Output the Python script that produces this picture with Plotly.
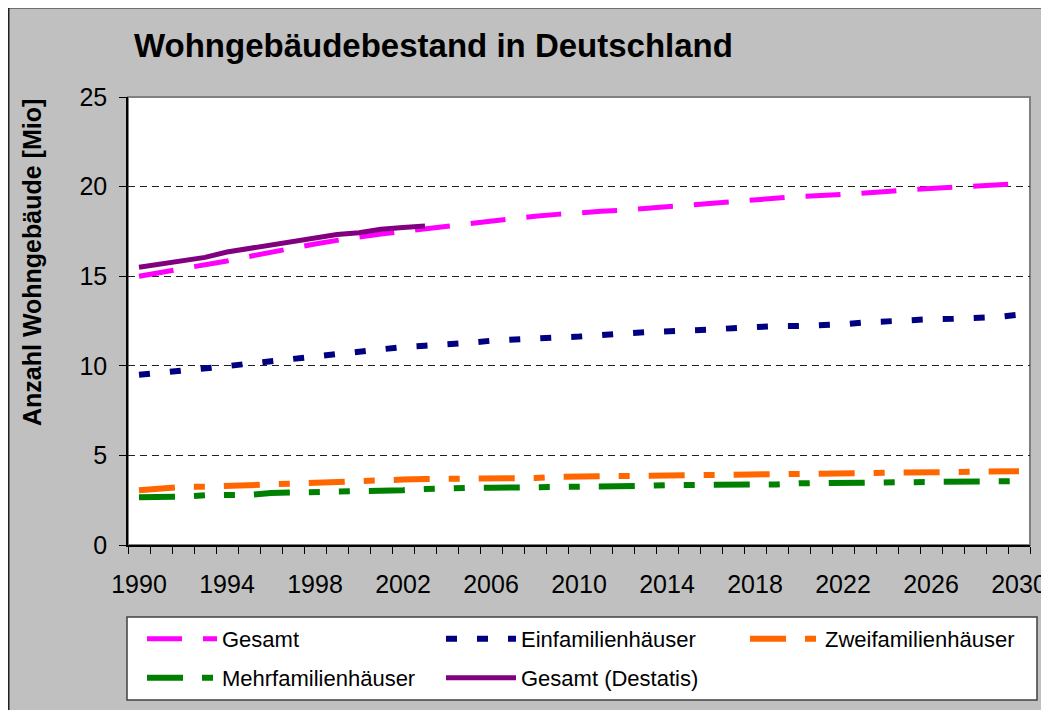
import plotly.graph_objects as go

years = list(range(1990, 2031))
years_destatis = list(range(1990, 2004))

gesamt = [15.0, 15.2, 15.4, 15.6, 15.85, 16.1, 16.35, 16.6, 16.8, 17.0,
          17.2, 17.35, 17.5, 17.65, 17.8, 17.95, 18.05, 18.2, 18.35, 18.45,
          18.55, 18.62, 18.68, 18.78, 18.9, 19.02, 19.1, 19.17, 19.25, 19.35,
          19.45, 19.5, 19.55, 19.62, 19.72, 19.82, 19.88, 19.98, 20.05, 20.1, 20.17]
einfamilien = [9.5, 9.6, 9.72, 9.84, 9.98, 10.12, 10.25, 10.38, 10.52, 10.68,
               10.82, 10.94, 11.05, 11.12, 11.18, 11.28, 11.4, 11.48, 11.53, 11.58,
               11.63, 11.68, 11.8, 11.88, 11.91, 11.94, 12.02, 12.1, 12.17, 12.21,
               12.22, 12.23, 12.32, 12.42, 12.5, 12.57, 12.6, 12.62, 12.65, 12.72, 12.85]
zweifamilien = [3.05, 3.15, 3.25, 3.25, 3.3, 3.38, 3.38, 3.42, 3.5, 3.57,
                3.58, 3.6, 3.65, 3.68, 3.68, 3.72, 3.73, 3.73, 3.74, 3.8,
                3.84, 3.84, 3.85, 3.86, 3.88, 3.9, 3.9, 3.9, 3.9, 3.92,
                3.98, 4.0, 4.0, 4.0, 4.02, 4.08, 4.1, 4.1, 4.1, 4.1, 4.12]
mehrfamilien = [2.66, 2.66, 2.7, 2.78, 2.79, 2.8, 2.9, 2.92, 2.95, 2.95,
                3.0, 3.06, 3.06, 3.12, 3.18, 3.19, 3.19, 3.2, 3.22, 3.23,
                3.23, 3.23, 3.23, 3.3, 3.34, 3.34, 3.34, 3.34, 3.34, 3.38,
                3.44, 3.45, 3.45, 3.45, 3.45, 3.47, 3.52, 3.56, 3.56, 3.56, 3.57]
destatis = [15.5, 15.7, 15.88, 16.05, 16.35, 16.55, 16.78, 16.98, 17.15, 17.33,
            17.43, 17.62, 17.72, 17.8]

x_ticks = list(range(1990, 2031, 4))
y_ticks = [0, 5, 10, 15, 20, 25]

W, H = 1049, 710
OFF = 8  # page body margin: screen coords = figure coords + 8
L, R, T, B = 120, 27, 89, 173
PW, PH = W - L - R, H - T - B


def px(sx):
    """screen x -> paper x"""
    return (sx - OFF - L) / PW


def py(sy):
    """screen y -> paper y"""
    return (H - B - (sy - OFF)) / PH


FONT = "Liberation Sans, Arial, sans-serif"

fig = go.Figure()

series = [
    ("Gesamt", years, gesamt, "#FF00FF", 5, "35px,21px", "legend"),
    ("Einfamilienhäuser", years, einfamilien, "#000080", 6, "11px,20px", "legend2"),
    ("Zweifamilienhäuser", years, zweifamilien, "#FF6600", 6, "36px,19px,11px,19px", "legend3"),
    ("Mehrfamilienhäuser", years, mehrfamilien, "#008000", 6, "36px,19px,11px,19px,11px,19px", "legend4"),
    ("Gesamt (Destatis)", years_destatis, destatis, "#800080", 5, "solid", "legend5"),
]
for name, xs, ys, color, w, dash, lg in series:
    fig.add_trace(go.Scatter(x=xs, y=ys, name=name, mode="lines",
                             line=dict(color=color, width=w, dash=dash),
                             legend=lg, hoverinfo="skip"))

# legend positions (screen px of legend left edge, row center)
leg_pos = {
    "legend": (142, 639),
    "legend2": (441, 639),
    "legend3": (745, 639),
    "legend4": (142, 678),
    "legend5": (441, 678),
}
for lg, (lx, ly) in leg_pos.items():
    fig.update_layout(**{lg: dict(x=px(lx), y=py(ly), xanchor="left", yanchor="middle",
                                  bgcolor="rgba(0,0,0,0)", borderwidth=0,
                                  itemwidth=70, font=dict(family=FONT, size=22, color="black"))})

shapes = [
    # chart area border (top and left)
    dict(type="line", xref="paper", yref="paper", x0=px(OFF + 0.5), x1=px(OFF + 0.5), y0=py(H + 20), y1=py(OFF - 1),
         line=dict(color="#202020", width=2)),
    dict(type="line", xref="paper", yref="paper", x0=px(OFF - 1), x1=px(W + 20), y0=py(OFF - 0.5), y1=py(OFF - 0.5),
         line=dict(color="#202020", width=2)),
    # plot area frame
    dict(type="rect", xref="paper", yref="paper", x0=0, x1=1, y0=0, y1=1,
         line=dict(color="#808080", width=2), layer="below"),
    # legend box
    dict(type="rect", xref="paper", yref="paper", x0=px(127), x1=px(1037), y0=py(700), y1=py(617),
         fillcolor="white", line=dict(color="#404040", width=1.5)),
]

fig.update_layout(
    width=W, height=H,
    margin=dict(l=L, r=R, t=T, b=B, autoexpand=False),
    paper_bgcolor="#C0C0C0",
    plot_bgcolor="white",
    showlegend=True,
    shapes=shapes,
    title=dict(text="Wohngebäudebestand in Deutschland", x=(134 - OFF) / W, xref="container", xanchor="left",
               y=1 - (45 - OFF) / H, yref="container", yanchor="middle",
               font=dict(family=FONT, size=33, color="black", weight="bold")),
    annotations=[dict(text="Anzahl Wohngebäude [Mio]", x=px(32), y=py(263), xref="paper", yref="paper",
                      showarrow=False, textangle=-90, xanchor="center", yanchor="middle",
                      font=dict(family=FONT, size=25, color="black", weight="bold"))],
    xaxis=dict(range=[1989.5, 2030.5], tickmode="array", tickvals=x_ticks,
               ticktext=[str(v) for v in x_ticks], ticks="", showgrid=False, zeroline=False,
               showline=True, linecolor="black", linewidth=1.5,
               tickfont=dict(family=FONT, size=25, color="black"), ticklabelstandoff=16,
               minor=dict(tickmode="linear", tick0=1989.5, dtick=1, ticks="outside",
                          ticklen=7, tickcolor="black", tickwidth=1, showgrid=False)),
    yaxis=dict(range=[0, 25], tickmode="array", tickvals=y_ticks, ticks="outside", ticklen=7,
               tickcolor="black", tickwidth=1, showgrid=True, gridcolor="#202020", gridwidth=1,
               griddash="7px,5px", zeroline=False, showline=True, linecolor="black", linewidth=1.5,
               tickfont=dict(family=FONT, size=25, color="black"), ticklabelstandoff=7),
)

fig.write_html("out.html")
